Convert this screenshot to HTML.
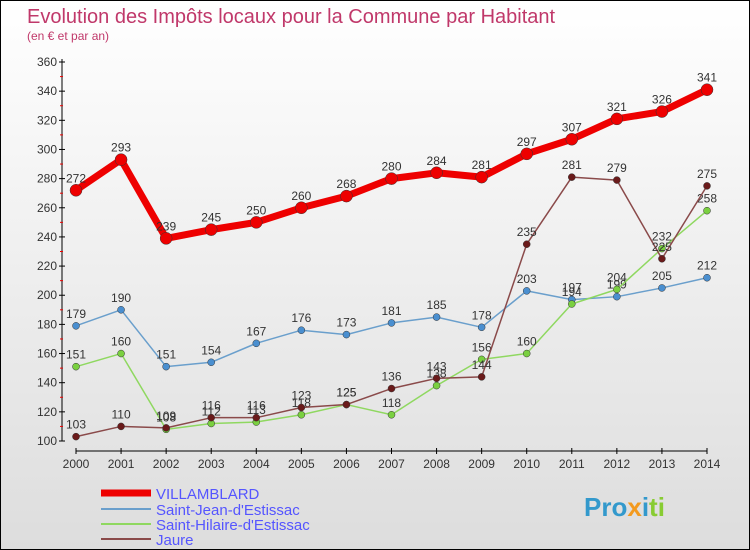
<!DOCTYPE html>
<html><head><meta charset="utf-8"><style>
body{margin:0}
#c{width:750px;height:550px;position:relative;box-sizing:border-box;border:1px solid #000;background:linear-gradient(#fff,#ddd);font-family:"Liberation Sans",sans-serif;overflow:hidden}
text{font-family:"Liberation Sans",sans-serif}
</style></head><body>
<div id="c">
<svg id="s" width="750" height="550">
<text x="26" y="22" font-size="20" fill="#c0386a">Evolution des Impôts locaux pour la Commune par Habitant</text>
<text x="26" y="39" font-size="12" fill="#c0386a">(en € et par an)</text>
<g id="axes"></g><g id="series"></g>
<g>
<line x1="100" y1="492" x2="150" y2="492" stroke="#e00" stroke-width="7"/>
<text x="155" y="498" font-size="15" fill="#55f">VILLAMBLARD</text>
<line x1="100" y1="508" x2="150" y2="508" stroke="#6a9fcc" stroke-width="2"/>
<text x="155" y="514" font-size="15" fill="#55f">Saint-Jean-d'Estissac</text>
<line x1="100" y1="523" x2="150" y2="523" stroke="#8fd860" stroke-width="2"/>
<text x="155" y="529" font-size="15" fill="#55f">Saint-Hilaire-d'Estissac</text>
<line x1="100" y1="538" x2="150" y2="538" stroke="#8a4a4a" stroke-width="2"/>
<text x="155" y="544" font-size="15" fill="#55f">Jaure</text>
</g>
<text x="583" y="515" font-size="26" font-weight="bold" fill="#3399cc">Pro<tspan fill="#f39a1e">x</tspan><tspan fill="#3399cc">i</tspan><tspan fill="#8c3">ti</tspan></text>
</svg></div>
<script>
const years=[2000,2001,2002,2003,2004,2005,2006,2007,2008,2009,2010,2011,2012,2013,2014];
const yTicks=[100,120,140,160,180,200,220,240,260,280,300,320,340,360];
const villamblard=[272,293,239,245,250,260,268,280,284,281,297,307,321,326,341];
const saintJean=[179,190,151,154,167,176,173,181,185,178,203,197,199,205,212];
const saintHilaire=[151,160,108,112,113,118,125,118,138,156,160,194,204,232,258];
const jaure=[103,110,109,116,116,123,125,136,143,144,235,281,279,225,275];
const NS="http://www.w3.org/2000/svg";
function xs(i){return 75+i*(706-75)/(years.length-1);}
function ys(v){return 440-(v-100)*(440-61)/260;}
function mk(t,a,p){const e=document.createElementNS(NS,t);for(const k in a)e.setAttribute(k,a[k]);p.appendChild(e);return e;}
const ax=document.getElementById('axes');
let l=mk('line',{x1:61,y1:58,x2:61,y2:440,stroke:'#000'},ax);


l=mk('line',{x1:75,y1:450,x2:706,y2:450,stroke:'#000'},ax);


yTicks.forEach(v=>{const y=ys(v);
mk('line',{x1:58,y1:y,x2:64,y2:y,stroke:'#000'},ax);
if(v<360)mk('line',{x1:59,y1:ys(v+10),x2:62,y2:ys(v+10),stroke:'#e00'},ax);
const t=mk('text',{x:56,y:y+4,'font-size':12,'text-anchor':'end',fill:'#333'},ax);t.textContent=v;

});
years.forEach((yr,i)=>{const x=xs(i);mk('line',{x1:x,y1:447,x2:x,y2:453,stroke:'#000'},ax);
const t=mk('text',{x:x,y:467,'font-size':12,'text-anchor':'middle',fill:'#333'},ax);t.textContent=yr;

});
const sg=document.getElementById('series');
function draw(arr,name,col,w,r,dot){
const g=mk('g',{},sg);


const p=mk('polyline',{points:arr.map((v,i)=>xs(i)+','+ys(v)).join(' '),fill:'none',stroke:col,'stroke-width':w,'stroke-linejoin':'round'},g);


arr.forEach((v,i)=>{const c=mk('circle',{cx:xs(i),cy:ys(v),r:r,fill:dot,stroke:'#333','stroke-width':0.5},g);


const t=mk('text',{x:xs(i),y:ys(v)-8,'font-size':12,'text-anchor':'middle',fill:'#333'},g);t.textContent=v;

});}
draw(saintJean,'saint-jean','#6a9fcc',1.5,3.5,'#4a8fd0');
draw(saintHilaire,'saint-hilaire','#8fd860',1.5,3.5,'#7ad040');
draw(jaure,'jaure','#8a4a4a',1.5,3.5,'#6a1a1a');
draw(villamblard,'villamblard','#e00',7,6,'#e00');
</script>
</body></html>
